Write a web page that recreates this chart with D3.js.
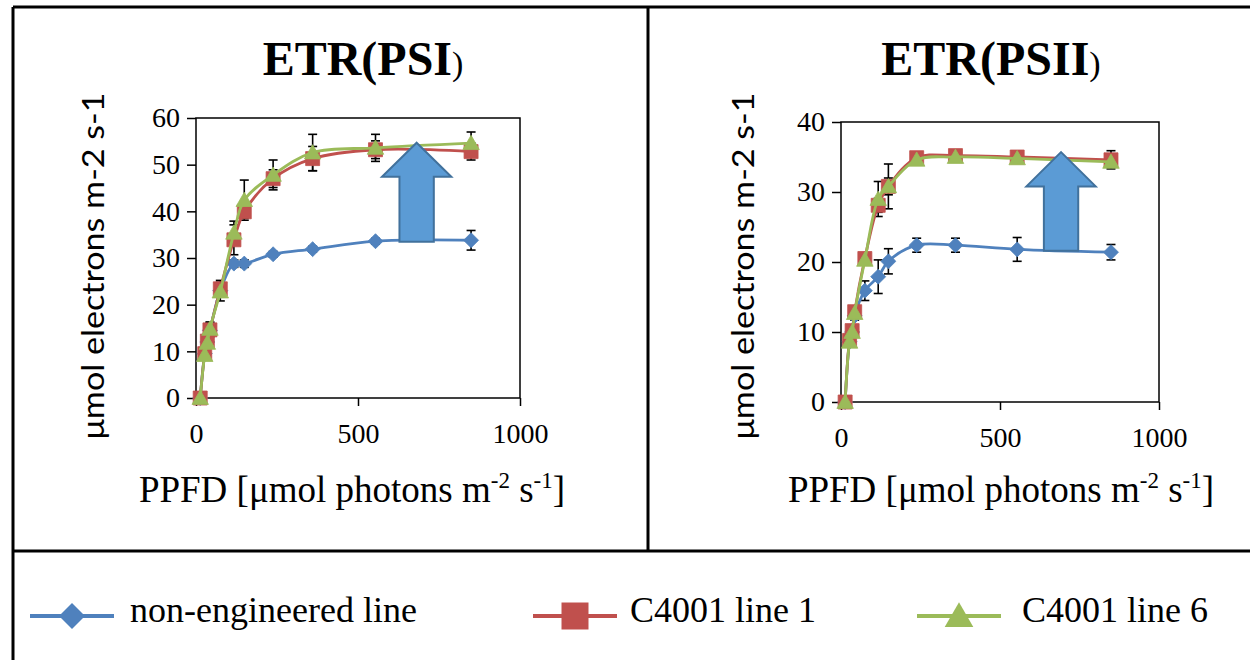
<!DOCTYPE html>
<html>
<head>
<meta charset="utf-8">
<script src="https://cdn.jsdelivr.net/npm/d3@7"></script>
<style>
  body { margin: 0; background: #fff; }
  svg { display: block; }
</style>
</head>
<body>
<svg id="chart" width="1250" height="660"></svg>
<script>
// PPFD steps (same for both panels)
const ppfd = [13, 27, 35, 43, 75, 117, 149, 238, 360, 554, 849];

// ETR(PSI)
const psiWild = [0, 9.5, 12, 14.5, 23, 28.8, 28.8, 30.8, 31.9, 33.6, 33.8];
const psiWildErr = [0, 0.5, 0.5, 0.6, 1, 0.8, 0.8, 0.6, 0.6, 0.6, 2.1];
const psiLine1 = [0, 9.5, 12.2, 14.6, 23.4, 33.9, 39.9, 47.0, 51.3, 53.2, 52.8];
const psiLine1Err = [0, 1, 1, 1.5, 1.8, 3.2, 1.4, 1.9, 2.6, 1.9, 1.8];
const psiLine6 = [0, 9.2, 11.8, 14.8, 22.8, 35.4, 42.4, 47.8, 52.6, 53.6, 54.6];
const psiLine6Err = [0, 1, 1, 1.5, 2, 2.5, 4.3, 3.2, 3.9, 2.9, 2.4];

// ETR(PSII)
const psiiWild = [0, 8.6, 10, 12.3, 15.9, 17.9, 20.1, 22.4, 22.4, 21.8, 21.4];
const psiiWildErr = [0, 0.4, 0.5, 0.6, 1.4, 2.4, 1.8, 1.0, 1.0, 1.7, 1.1];
const psiiLine1 = [0, 8.8, 10.2, 12.9, 20.5, 28.1, 30.8, 34.9, 35.2, 35.0, 34.6];
const psiiLine1Err = [0, 0.5, 0.5, 0.6, 0.5, 1.0, 1.2, 0.5, 0.5, 0.4, 1.3];
const psiiLine6 = [0, 8.6, 10, 12.7, 20.3, 29.0, 30.8, 34.6, 35.0, 34.8, 34.3];
const psiiLine6Err = [0, 0.5, 0.5, 0.6, 0.5, 2.5, 3.2, 0.5, 0.5, 0.5, 0.5];

const seriesNames = ['non-engineered line', 'C4001 line 1', 'C4001 line 6'];
const xTicks = [0, 500, 1000];
const psiTicks = [0, 10, 20, 30, 40, 50, 60];
const psiiTicks = [0, 10, 20, 30, 40];

const colors = ['#4f81bd', '#c0504d', '#9bbb59'];
const shapes = ['diamond', 'square', 'triangle'];
const serif = '"Liberation Serif", "Times New Roman", Times, serif';
const sans = 'Lato, "Open Sans", sans-serif';

const svg = d3.select('#chart');

// marker paths, centered on 0,0
function marker(type, s) {
    if (type === 'diamond') return `M0,${-s} L${s},0 L0,${s} L${-s},0Z`;
    if (type === 'square') return `M${-s},${-s} h${2 * s} v${2 * s} h${-2 * s}Z`;
    return `M0,${-s * 1.05} L${s * 1.1},${s * 0.85} L${-s * 1.1},${s * 0.85}Z`;
}

function drawPanel(o) {
    const x = d3.scaleLinear().domain([0, 1000]).range(o.xr);
    const y = d3.scaleLinear().domain([0, o.ymax]).range(o.yr);
    const g = svg.append('g');

    // title
    const t = g.append('text')
        .attr('x', o.titleX).attr('y', 75)
        .attr('text-anchor', 'middle')
        .attr('font-family', serif);
    t.append('tspan').text(o.title).style('font-weight', 'bold').style('font-size', '48px');
    t.append('tspan').text(')').style('font-size', '34px');

    // y axis
    const ya = g.append('g')
        .attr('transform', `translate(${o.xr[0]},0)`)
        .call(d3.axisLeft(y).tickValues(o.yTicks).tickFormat(d3.format('d'))
            .tickSize(9).tickSizeOuter(0).tickPadding(7));
    // x axis
    const xa = g.append('g')
        .attr('transform', `translate(0,${o.yr[0]})`)
        .call(d3.axisBottom(x).tickValues(xTicks).tickFormat(d3.format('d'))
            .tickSize(8).tickSizeOuter(0).tickPadding(17));
    [ya, xa].forEach(a => {
        a.attr('font-family', serif).attr('font-size', 28);
        a.selectAll('text').attr('fill', '#000');
        a.selectAll('line').attr('stroke', '#000').attr('stroke-width', 1.5);
        a.select('.domain').remove();
    });

    // plot border
    g.append('rect')
        .attr('x', o.xr[0]).attr('y', o.yr[1])
        .attr('width', o.xr[1] - o.xr[0]).attr('height', o.yr[0] - o.yr[1])
        .attr('fill', 'none').attr('stroke', '#000').attr('stroke-width', 1.5);

    // y title
    g.append('text')
        .attr('transform', `translate(${o.yTitleX},266) rotate(-90)`)
        .attr('text-anchor', 'middle')
        .attr('textLength', 347).attr('lengthAdjust', 'spacingAndGlyphs')
        .attr('font-family', sans).attr('font-size', 30)
        .text('μmol electrons m-2 s-1');

    // x title
    const xt = g.append('text')
        .attr('x', o.xTitleX).attr('y', 502)
        .attr('text-anchor', 'middle')
        .attr('font-family', serif).attr('font-size', 37);
    xt.append('tspan').text('PPFD [μmol photons m');
    xt.append('tspan').text('-2').attr('dy', -14).attr('font-size', 23);
    xt.append('tspan').text(' s').attr('dy', 14);
    xt.append('tspan').text('-1').attr('dy', -14).attr('font-size', 23);
    xt.append('tspan').text(']').attr('dy', 14);

    const line = d3.line()
        .x((d, i) => x(ppfd[i]))
        .y(d => y(d))
        .curve(d3.curveCatmullRom.alpha(0.5));

    // error bars
    o.series.forEach((s, k) => {
        const eb = g.append('g').attr('stroke', '#000').attr('stroke-width', 1.6);
        s.forEach((v, i) => {
            const e = o.errs[k][i];
            if (!e) return;
            const cx = x(ppfd[i]);
            eb.append('line').attr('x1', cx).attr('x2', cx).attr('y1', y(v - e)).attr('y2', y(v + e));
            eb.append('line').attr('x1', cx - 4.5).attr('x2', cx + 4.5).attr('y1', y(v - e)).attr('y2', y(v - e));
            eb.append('line').attr('x1', cx - 4.5).attr('x2', cx + 4.5).attr('y1', y(v + e)).attr('y2', y(v + e));
        });
    });

    // lines + markers
    o.series.forEach((s, k) => {
        g.append('path')
            .attr('d', line(s))
            .attr('fill', 'none')
            .attr('stroke', colors[k])
            .attr('stroke-width', 2.8);
        g.selectAll(null).data(s).join('path')
            .attr('transform', (d, i) => `translate(${x(ppfd[i])},${y(d)})`)
            .attr('d', marker(shapes[k], k === 1 ? 7 : 7.5))
            .attr('fill', colors[k])
            .attr('stroke', colors[k])
            .attr('stroke-width', 0.8);
    });

    // block arrow annotation (data units)
    const a = o.arrow;
    const pts = [
        [a.x, a.top],
        [a.x + a.head, a.neck],
        [a.x + a.shaft, a.neck],
        [a.x + a.shaft, a.bottom],
        [a.x - a.shaft, a.bottom],
        [a.x - a.shaft, a.neck],
        [a.x - a.head, a.neck]
    ];
    g.append('path')
        .attr('d', 'M' + pts.map(p => `${x(p[0])},${y(p[1])}`).join('L') + 'Z')
        .attr('fill', '#5b9bd5')
        .attr('stroke', '#41719c')
        .attr('stroke-width', 2);
}

drawPanel({
    title: 'ETR(PSI', titleX: 363, xr: [196, 520], yr: [398, 118], ymax: 60,
    yTicks: psiTicks, yTitleX: 104, xTitleX: 352,
    series: [psiWild, psiLine1, psiLine6],
    errs: [psiWildErr, psiLine1Err, psiLine6Err],
    arrow: { x: 681, top: 54.7, neck: 47.4, bottom: 33.5, head: 107, shaft: 53 }
});

drawPanel({
    title: 'ETR(PSII', titleX: 991, xr: [841, 1159], yr: [402, 122], ymax: 40,
    yTicks: psiiTicks, yTitleX: 754, xTitleX: 1001,
    series: [psiiWild, psiiLine1, psiiLine6],
    errs: [psiiWildErr, psiiLine1Err, psiiLine6Err],
    arrow: { x: 692, top: 35.7, neck: 30.8, bottom: 21.6, head: 109, shaft: 54 }
});

// frame lines
const frame = svg.append('g').attr('stroke', '#000').attr('stroke-width', 3);
frame.append('line').attr('x1', 13).attr('x2', 1250).attr('y1', 7).attr('y2', 7);
frame.append('line').attr('x1', 13).attr('x2', 13).attr('y1', 7).attr('y2', 660);
frame.append('line').attr('x1', 648).attr('x2', 648).attr('y1', 7).attr('y2', 551);
frame.append('line').attr('x1', 13).attr('x2', 1250).attr('y1', 551).attr('y2', 551);

// legend
const legendX = [72, 575, 959];
const legendTextX = [130, 630, 1022];
const lg = svg.append('g');
seriesNames.forEach((name, k) => {
    lg.append('line')
        .attr('x1', legendX[k] - 42).attr('x2', legendX[k] + 42)
        .attr('y1', 616).attr('y2', 616)
        .attr('stroke', colors[k]).attr('stroke-width', 4);
    lg.append('path')
        .attr('transform', `translate(${legendX[k]},616)`)
        .attr('d', marker(shapes[k], k === 1 ? 13.5 : 13))
        .attr('fill', colors[k]);
    lg.append('text')
        .attr('x', legendTextX[k]).attr('y', 622)
        .attr('font-family', serif).attr('font-size', 36)
        .text(name);
});
</script>
</body>
</html>
